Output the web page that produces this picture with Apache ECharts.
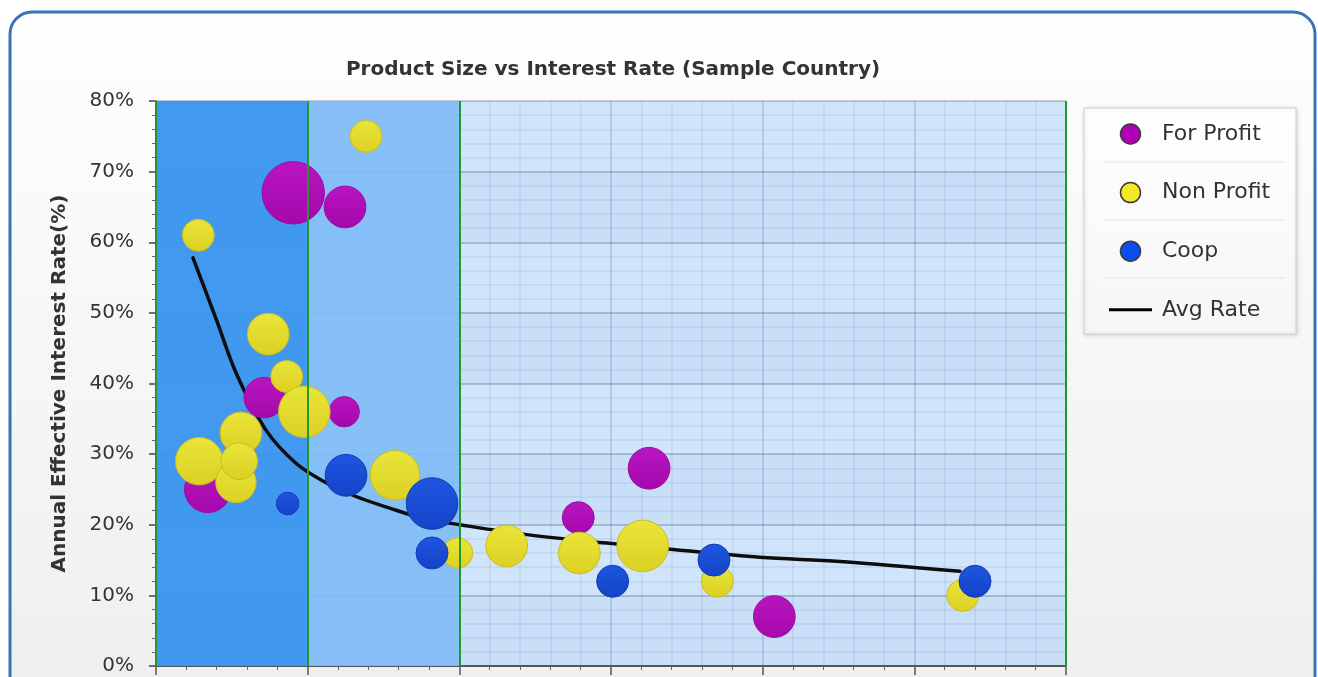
<!DOCTYPE html>
<html>
<head>
<meta charset="utf-8">
<script src="https://cdn.jsdelivr.net/npm/echarts@6/dist/echarts.min.js"></script>
<style>
  html, body { margin: 0; padding: 0; background: #ffffff; }
  #chart { width: 1318px; height: 677px; }
</style>
</head>
<body>
<div id="chart"></div>
<script>
// Product size (x), effective annual rate in % (y) and portfolio weight (bubble area)
var forProfitX    = [905, 1246, 714, 1241, 341, 2784, 3251, 4077];
var forProfitY    = [67, 65, 38, 36, 25, 21, 28, 7];
var forProfitSize = [38, 17, 16, 9, 21, 10, 17, 17];

var nonProfitX    = [1385, 279, 740, 862, 978, 560, 285, 527, 549, 1576, 1989, 2312, 2791, 3209, 3701, 5319];
var nonProfitY    = [75, 61, 47, 41, 36, 33, 29, 26, 29, 27, 16, 17, 16, 17, 12, 10];
var nonProfitSize = [10, 10, 17, 10, 26, 17, 22, 16, 13, 24, 9, 17, 17, 26, 10, 10];

var coopX    = [868, 1253, 1820, 1820, 3011, 3679, 5400];
var coopY    = [23, 27, 23, 16, 12, 15, 12];
var coopSize = [5, 17, 26, 10, 10, 10, 10];

// Average rate by product size
var avgX = [244, 402, 534, 725, 923, 1101, 1319, 1536, 1760, 2004, 2446, 2973, 3409, 3982, 4510, 5301];
var avgY = [57.8, 48.8, 41.2, 33.4, 28.7, 26.2, 24.0, 22.4, 20.9, 20.0, 18.6, 17.4, 16.5, 15.4, 14.8, 13.4];

// Size segments shaded behind the points
var segmentEdges = [0, 1000, 2000, 6000];

var seriesNames = ['For Profit', 'Non Profit', 'Coop', 'Avg Rate'];

function zip3(xs, ys, ss) {
  return xs.map(function (x, i) { return [x, ys[i], ss[i]]; });
}
function zip2(xs, ys) {
  return xs.map(function (x, i) { return [x, ys[i]]; });
}
function bubbleSize(d) { return 32 * Math.sqrt(d[2] / 10); }
function vGrad(top, bottom) {
  return new echarts.graphic.LinearGradient(0, 0, 0, 1, [
    { offset: 0, color: top }, { offset: 1, color: bottom }
  ]);
}

var chart = echarts.init(document.getElementById('chart'), null, { renderer: 'canvas' });

var FONT = 'DejaVu Sans';

chart.setOption({
  animation: false,
  backgroundColor: 'transparent',
  graphic: [
    {
      type: 'rect', z: -10, silent: true,
      shape: { x: 10, y: 12, width: 1305, height: 720, r: 22 },
      style: {
        fill: new echarts.graphic.LinearGradient(0, 0, 0, 1, [
          { offset: 0, color: '#fefefe' }, { offset: 1, color: '#eeeeee' }
        ]),
        stroke: '#3a72b6', lineWidth: 3
      }
    },
    {
      type: 'rect', z: -5, silent: true,
      shape: { x: 1084, y: 108, width: 212, height: 226 },
      style: {
        fill: new echarts.graphic.LinearGradient(0, 0, 0, 1, [
          { offset: 0, color: '#ffffff' }, { offset: 1, color: '#f6f6f6' }
        ]),
        stroke: '#cfcfcf', lineWidth: 1,
        shadowBlur: 4, shadowColor: 'rgba(0,0,0,0.15)', shadowOffsetX: 1, shadowOffsetY: 1
      }
    },
    { type: 'line', z: -4, silent: true, shape: { x1: 1103, y1: 162, x2: 1285, y2: 162 }, style: { stroke: '#e6e6e6', lineWidth: 1 } },
    { type: 'line', z: -4, silent: true, shape: { x1: 1103, y1: 220, x2: 1285, y2: 220 }, style: { stroke: '#e6e6e6', lineWidth: 1 } },
    { type: 'line', z: -4, silent: true, shape: { x1: 1103, y1: 278, x2: 1285, y2: 278 }, style: { stroke: '#e6e6e6', lineWidth: 1 } }
  ],
  title: {
    text: 'Product Size vs Interest Rate (Sample Country)',
    left: 608, top: 55, textAlign: 'center',
    textStyle: { fontFamily: FONT, fontWeight: 'bold', fontSize: 20, color: '#333333' }
  },
  legend: {
    orient: 'vertical', left: 1109, top: 123, padding: 0,
    itemWidth: 43, itemHeight: 20, itemGap: 36.6,
    textStyle: { fontFamily: FONT, fontSize: 22, lineHeight: 20, color: '#333333', padding: [0, 0, 0, 5] },
    data: [
      { name: seriesNames[0], icon: 'circle', itemStyle: { color: '#b000b8', borderColor: '#3a3a3a', borderWidth: 1.5 } },
      { name: seriesNames[1], icon: 'circle', itemStyle: { color: '#f0ea2a', borderColor: '#3a3a3a', borderWidth: 1.5 } },
      { name: seriesNames[2], icon: 'circle', itemStyle: { color: '#0a4df0', borderColor: '#3a3a3a', borderWidth: 1.5 } },
      { name: seriesNames[3], icon: 'path://M0,0 L43,0 L43,3 L0,3 Z', itemStyle: { color: '#000000', borderWidth: 0 } }
    ]
  },
  grid: {
    left: 156, top: 101, right: 252, bottom: 11,
    show: true, backgroundColor: '#d0e5fb', borderWidth: 0
  },
  xAxis: {
    type: 'value', min: 0, max: 6000, interval: 1000,
    axisLine: { show: true, onZero: false, lineStyle: { color: '#555555', width: 2 } },
    axisTick: { show: true, length: 9, lineStyle: { color: '#555555', width: 1.5 } },
    minorTick: { show: true, splitNumber: 5, length: 4, lineStyle: { color: '#666666', width: 1 } },
    axisLabel: { show: false },
    splitLine: { show: true, lineStyle: { color: 'rgba(70,100,140,0.20)', width: 2 } },
    minorSplitLine: { show: true, lineStyle: { color: 'rgba(70,110,160,0.09)', width: 2 } }
  },
  yAxis: {
    type: 'value', min: 0, max: 80, interval: 10,
    name: 'Annual Effective Interest Rate(%)',
    nameLocation: 'middle', nameRotate: 90, nameGap: 86,
    nameTextStyle: { fontFamily: FONT, fontWeight: 'bold', fontSize: 20, color: '#333333' },
    axisLine: { show: true, lineStyle: { color: '#555555', width: 1.5 } },
    axisTick: { show: true, length: 7, lineStyle: { color: '#444444', width: 1.5 } },
    minorTick: { show: true, splitNumber: 5, length: 4, lineStyle: { color: '#666666', width: 1 } },
    axisLabel: { fontFamily: FONT, fontSize: 20, color: '#333333', margin: 22, formatter: '{value}%' },
    splitLine: { show: true, lineStyle: { color: 'rgba(60,80,110,0.28)', width: 2 } },
    minorSplitLine: { show: true, lineStyle: { color: 'rgba(70,110,160,0.09)', width: 2 } },
    splitArea: { show: true, areaStyle: { color: ['rgba(30,80,150,0.04)', 'rgba(255,255,255,0)'] } }
  },
  series: [
    {
      name: seriesNames[3], type: 'line', z: 1,
      data: zip2(avgX, avgY),
      smooth: 0.35, symbol: 'none', showSymbol: false,
      lineStyle: { color: '#0d0d0d', width: 3.5, cap: 'round', join: 'round' },
      itemStyle: { color: '#000000' },
      markArea: {
        silent: true,
        data: [
          [{ xAxis: segmentEdges[0], itemStyle: { color: 'rgba(56,148,238,0.94)' } }, { xAxis: segmentEdges[1] }],
          [{ xAxis: segmentEdges[1], itemStyle: { color: 'rgba(128,188,246,0.92)' } }, { xAxis: segmentEdges[2] }]
        ]
      },
      markLine: {
        silent: true, symbol: 'none',
        label: { show: false },
        lineStyle: { color: '#22982a', width: 2, type: 'solid' },
        data: segmentEdges.map(function (v) { return { xAxis: v }; })
      }
    },
    {
      name: seriesNames[0], type: 'scatter', z: 3,
      data: zip3(forProfitX, forProfitY, forProfitSize),
      symbolSize: bubbleSize,
      itemStyle: { opacity: 1, color: vGrad('#b915c0', '#a408ab'), borderColor: '#9c0aa2', borderWidth: 1 }
    },
    {
      name: seriesNames[1], type: 'scatter', z: 4,
      data: zip3(nonProfitX, nonProfitY, nonProfitSize),
      symbolSize: bubbleSize,
      itemStyle: { opacity: 1, color: vGrad('#e9e53a', '#dcd024'), borderColor: '#cbbd1c', borderWidth: 1 }
    },
    {
      name: seriesNames[2], type: 'scatter', z: 5,
      data: zip3(coopX, coopY, coopSize),
      symbolSize: bubbleSize,
      itemStyle: { opacity: 1, color: vGrad('#1e55e0', '#1444c8'), borderColor: '#123cb0', borderWidth: 1 }
    }
  ]
});
</script>
</body>
</html>
